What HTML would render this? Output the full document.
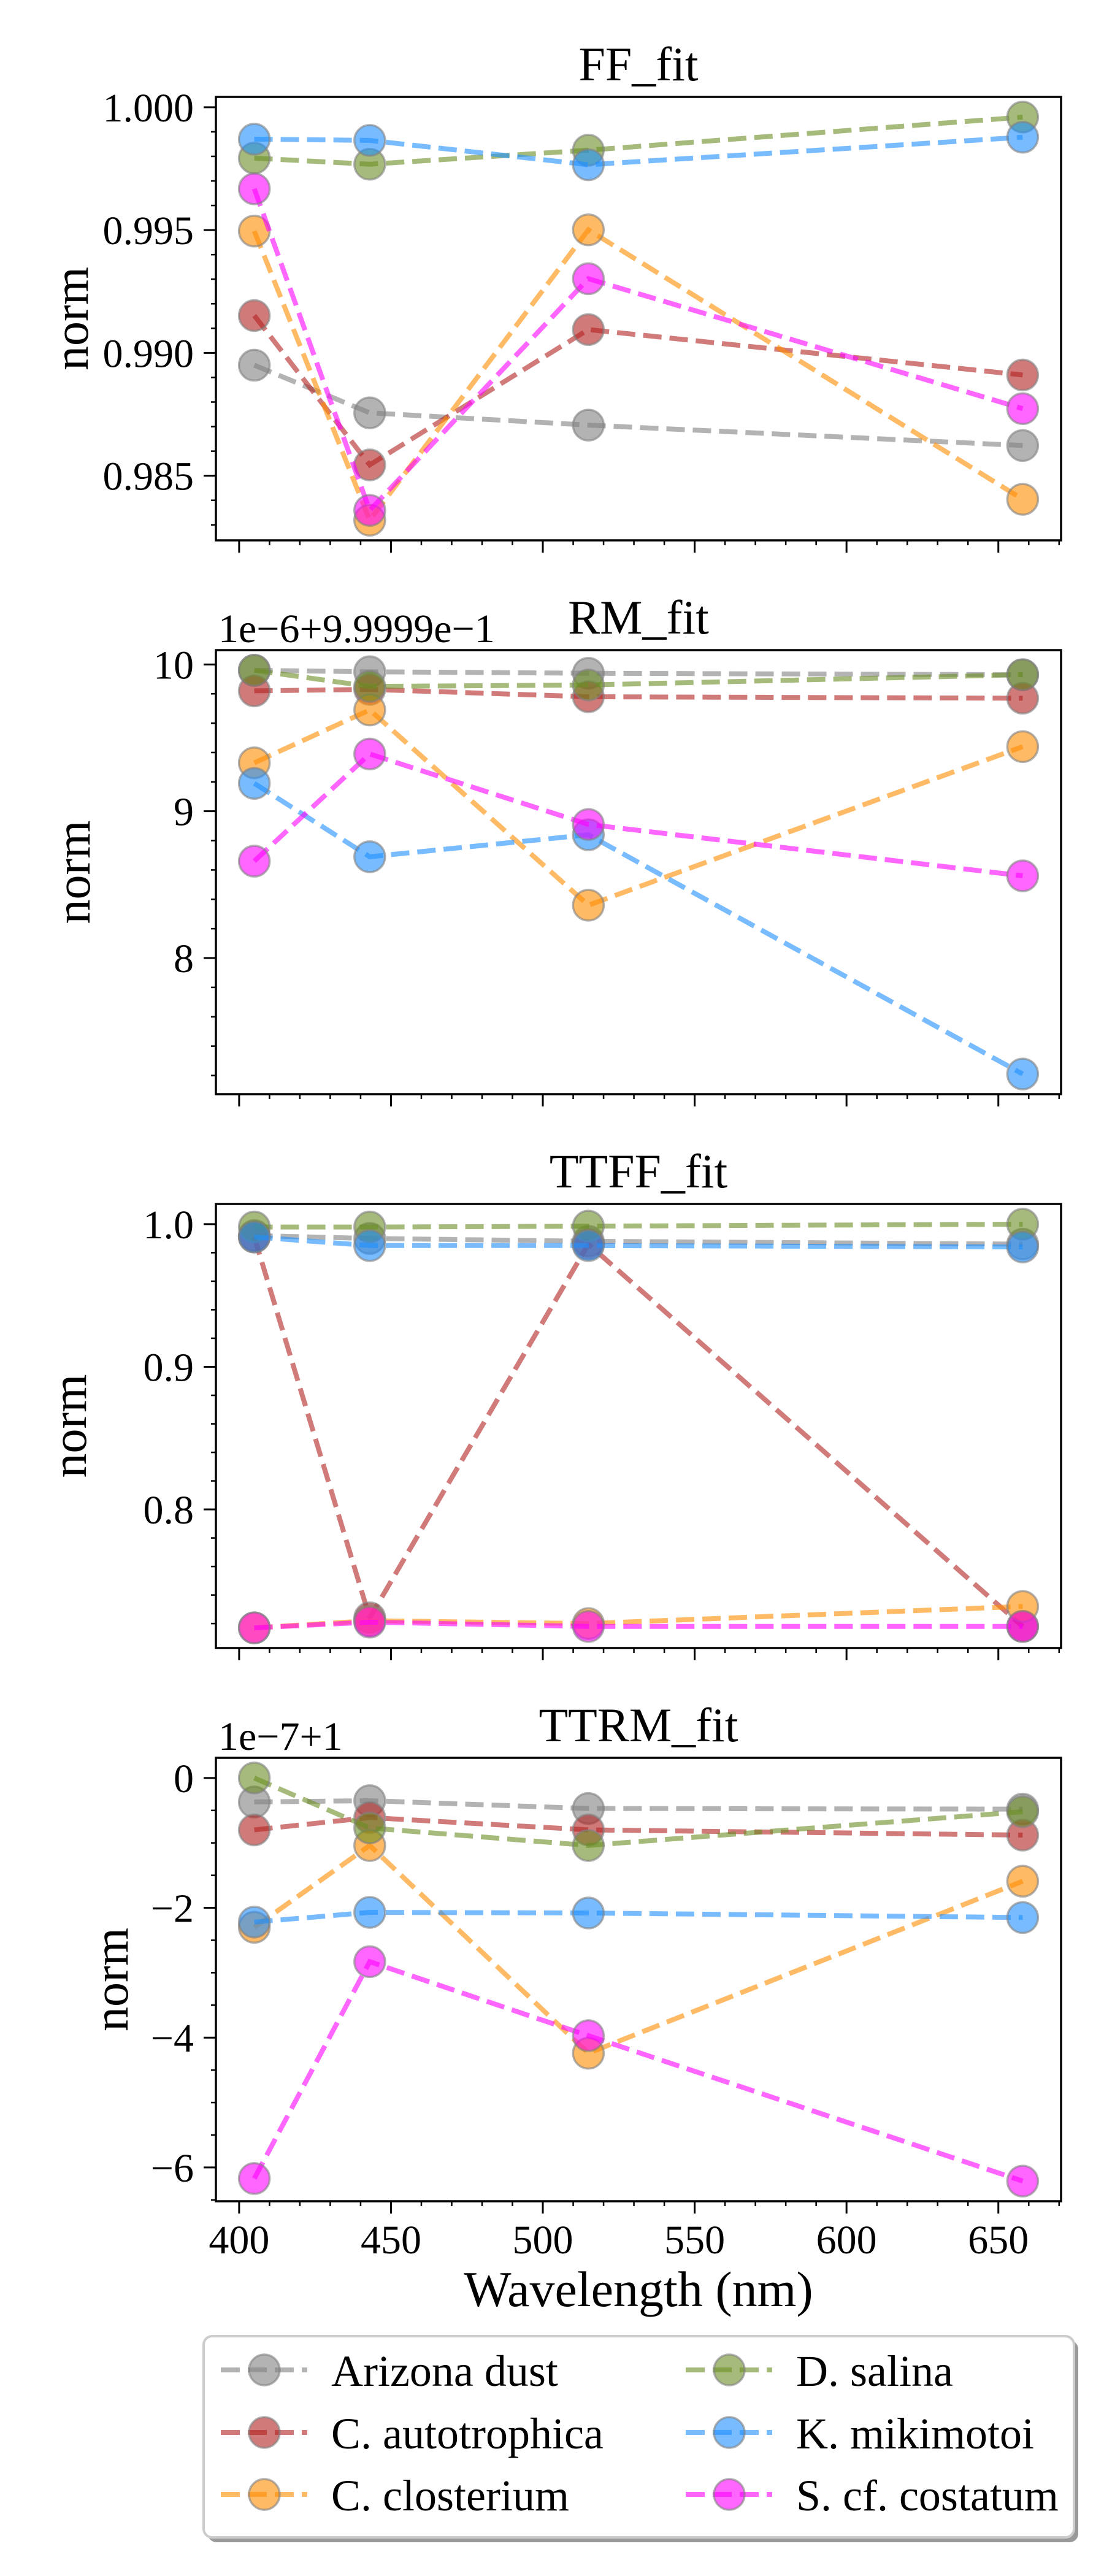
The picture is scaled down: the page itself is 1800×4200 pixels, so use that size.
<!DOCTYPE html>
<html><head><meta charset="utf-8">
<style>
html,body{margin:0;padding:0;background:#fff;}
svg{display:block;}
text{font-family:"Liberation Serif","DejaVu Serif",serif;fill:#000;}
</style></head>
<body>
<svg id="fig" width="1800" height="4200" viewBox="0 0 1800 4200" xmlns="http://www.w3.org/2000/svg">
<rect width="1800" height="4200" fill="#fff"/>
</svg>
<script>
// ---- data ----
const wavelengths = [405, 443, 515, 658];
const seriesNames = ["Arizona dust","C. autotrophica","C. closterium","D. salina","K. mikimotoi","S. cf. costatum"];
const seriesColors = ["#808080","#b22222","#ff8c00","#6b8e23","#1e90ff","#ff00ff"];
const xTicks = [400, 450, 500, 550, 600, 650];

const ffArizona = [0.98950, 0.98756, 0.98706, 0.98623];
const ffAuto    = [0.99152, 0.98544, 0.99095, 0.98910];
const ffClost   = [0.99496, 0.98319, 0.99501, 0.98404];
const ffSalina  = [0.99793, 0.99768, 0.99825, 0.99960];
const ffMiki    = [0.99870, 0.99865, 0.99766, 0.99878];
const ffCost    = [0.99668, 0.98359, 0.99302, 0.98773];
const ffTicks = [0.985, 0.990, 0.995, 1.000];
const ffTickLabels = ["0.985","0.990","0.995","1.000"];

const rmArizona = [9.96, 9.95, 9.94, 9.93];
const rmAuto    = [9.82, 9.83, 9.78, 9.77];
const rmClost   = [9.33, 9.69, 8.36, 9.44];
const rmSalina  = [9.96, 9.85, 9.86, 9.93];
const rmMiki    = [9.19, 8.69, 8.84, 7.21];
const rmCost    = [8.66, 9.39, 8.91, 8.56];
const rmTicks = [8, 9, 10];
const rmTickLabels = ["8","9","10"];

const ttffArizona = [0.992, 0.990, 0.988, 0.986];
const ttffAuto    = [0.991, 0.724, 0.986, 0.718];
const ttffClost   = [0.717, 0.722, 0.720, 0.732];
const ttffSalina  = [0.998, 0.998, 0.9986, 1.000];
const ttffMiki    = [0.991, 0.985, 0.985, 0.984];
const ttffCost    = [0.717, 0.721, 0.718, 0.718];
const ttffTicks = [0.8, 0.9, 1.0];
const ttffTickLabels = ["0.8","0.9","1.0"];

const ttrmArizona = [-0.37, -0.35, -0.47, -0.48];
const ttrmAuto    = [-0.80, -0.61, -0.80, -0.88];
const ttrmClost   = [-2.30, -1.04, -4.24, -1.59];
const ttrmSalina  = [0.00, -0.77, -1.04, -0.52];
const ttrmMiki    = [-2.22, -2.07, -2.08, -2.15];
const ttrmCost    = [-6.17, -2.83, -3.97, -6.21];
const ttrmTicks = [-6, -4, -2, 0];
const ttrmTickLabels = ["\u22126","\u22124","\u22122","0"];

// ---- layout ----
const svg = document.getElementById('fig');
const NS = 'http://www.w3.org/2000/svg';
function mk(tag, attrs, parent){ const e=document.createElementNS(NS,tag); for(const k in attrs) e.setAttribute(k,attrs[k]); (parent||svg).appendChild(e); return e; }
const AX_L = 352, AX_R = 1730;
const xmin = 405 - 0.05*(658-405), xmax = 658 + 0.05*(658-405);
function xScale(v){ return AX_L + (v - xmin)/(xmax - xmin)*(AX_R - AX_L); }

const panels = [
  {key:'ff', title:'FF_fit', top:158, bottom:881, series:[ffArizona,ffAuto,ffClost,ffSalina,ffMiki,ffCost], ticks:ffTicks, labels:ffTickLabels, minor:0.001, offset:'', ylabX:115},
  {key:'rm', title:'RM_fit', top:1060, bottom:1784, series:[rmArizona,rmAuto,rmClost,rmSalina,rmMiki,rmCost], ticks:rmTicks, labels:rmTickLabels, minor:0.2, offset:'1e\u22126+9.9999e\u22121', ylabX:118},
  {key:'ttff', title:'TTFF_fit', top:1963, bottom:2687, series:[ttffArizona,ttffAuto,ttffClost,ttffSalina,ttffMiki,ttffCost], ticks:ttffTicks, labels:ttffTickLabels, minor:0.02, offset:'', ylabX:112},
  {key:'ttrm', title:'TTRM_fit', top:2866, bottom:3589, series:[ttrmArizona,ttrmAuto,ttrmClost,ttrmSalina,ttrmMiki,ttrmCost], ticks:ttrmTicks, labels:ttrmTickLabels, minor:0.5, offset:'1e\u22127+1', ylabX:180, xlabels:true}
];

panels.forEach(p => {
  const g = mk('g', {});
  
  
  let all = [].concat(...p.series);
  let mn = Math.min(...all), mx = Math.max(...all), r = mx - mn;
  const ymin = mn - 0.05*r, ymax = mx + 0.05*r;
  const yScale = v => p.bottom - (v - ymin)/(ymax - ymin)*(p.bottom - p.top);
  const cp = mk('clipPath', {id:'clip-'+p.key}, g);
  mk('rect', {x:AX_L, y:p.top, width:AX_R-AX_L, height:p.bottom-p.top}, cp);
  const sg = mk('g', {'clip-path':'url(#clip-'+p.key+')'}, g);
  p.series.forEach((vals, i) => {
    const pts = vals.map((v,j)=> xScale(wavelengths[j]).toFixed(1)+','+yScale(v).toFixed(1)).join(' ');
    const line = mk('polyline', {points:pts, fill:'none', stroke:seriesColors[i], 'stroke-opacity':0.6, 'stroke-width':8, 'stroke-dasharray':'30 13'}, sg);
    
    
    vals.forEach((v,j) => {
      const c = mk('circle', {cx:xScale(wavelengths[j]), cy:yScale(v), r:25, fill:seriesColors[i], 'fill-opacity':0.6, stroke:'#808080', 'stroke-opacity':0.6, 'stroke-width':3.5}, sg);
      
      
    });
  });
  const fr = mk('rect', {x:AX_L, y:p.top, width:AX_R-AX_L, height:p.bottom-p.top, fill:'none', stroke:'#000', 'stroke-width':3.5}, g);
  
  
  const start = Math.ceil(ymin/p.minor - 1e-9);
  for (let k = start; k*p.minor <= ymax + 1e-12; k++) {
    const y = yScale(k*p.minor);
    mk('line', {x1:AX_L-8, x2:AX_L, y1:y, y2:y, stroke:'#000', 'stroke-width':2.5}, g);
  }
  p.ticks.forEach((t,i) => {
    const y = yScale(t);
    mk('line', {x1:AX_L-20, x2:AX_L, y1:y, y2:y, stroke:'#000', 'stroke-width':3}, g);
    const tx = mk('text', {x:AX_L-36, y:y+23, 'font-size':66, 'text-anchor':'end'}, g);
    tx.textContent = p.labels[i];
    
    
  });
  for (let v = 400; v <= xmax; v += 10) {
    const x = xScale(v), major = (v % 50 === 0);
    mk('line', {x1:x, x2:x, y1:p.bottom, y2:p.bottom + (major?20:8), stroke:'#000', 'stroke-width':major?3:2.5}, g);
  }
  if (p.xlabels) {
    xTicks.forEach(t => {
      const tx = mk('text', {x:xScale(t), y:p.bottom+85, 'font-size':66, 'text-anchor':'middle'}, g);
      tx.textContent = String(t);
      
      
    });
  }
  const ti = mk('text', {x:(AX_L+AX_R)/2, y:p.top-27, 'font-size':78, 'text-anchor':'middle'}, g);
  ti.textContent = p.title;
  
  
  if (p.offset) {
    const ot = mk('text', {x:AX_L+4, y:p.top-13, 'font-size':66}, g);
    ot.textContent = p.offset;
    
    
  }
  const cy = (p.top+p.bottom)/2;
  const yl = mk('text', {x:p.ylabX, y:cy, 'font-size':80, 'text-anchor':'middle', transform:'rotate(-90 '+p.ylabX+' '+cy+')', dy:'0.35em'}, g);
  yl.textContent = 'norm';
  
  
});

const xl = mk('text', {x:(AX_L+AX_R)/2, y:3760, 'font-size':82, 'text-anchor':'middle'});
xl.textContent = 'Wavelength (nm)';



const lg = mk('g', {});


mk('rect', {x:339, y:3816, width:1419, height:329, rx:14, fill:'#999'}, lg);
mk('rect', {x:332, y:3809, width:1419, height:328, rx:14, fill:'#fff', stroke:'#ccc', 'stroke-width':4}, lg);
const rowsY = [3864, 3966, 4067];
const colX = [360, 1118];
seriesNames.forEach((n, i) => {
  const col = Math.floor(i/3), row = i % 3;
  const x0 = colX[col], y = rowsY[row];
  const eg = mk('g', {}, lg);
  
  
  mk('line', {x1:x0, x2:x0+141, y1:y, y2:y, stroke:seriesColors[i], 'stroke-opacity':0.6, 'stroke-width':8, 'stroke-dasharray':'31 13'}, eg);
  mk('circle', {cx:x0+71, cy:y, r:25, fill:seriesColors[i], 'fill-opacity':0.6, stroke:'#808080', 'stroke-opacity':0.6, 'stroke-width':3.5}, eg);
  const t = mk('text', {x:x0+180, y:y+26, 'font-size':72}, eg);
  t.textContent = n;
});
</script>
</body></html>
